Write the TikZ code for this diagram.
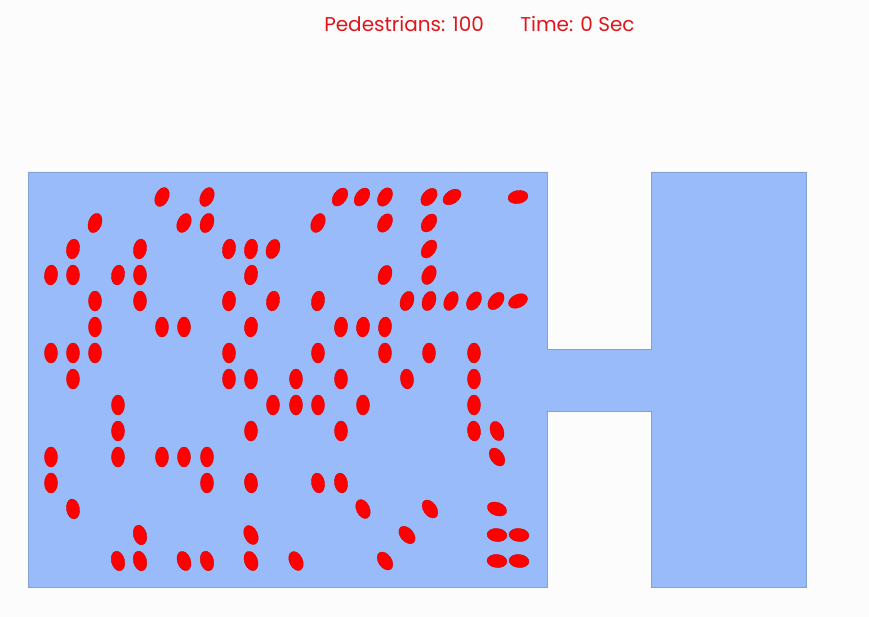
\documentclass[tikz,border=0pt]{standalone}
\usepackage{fontspec}
\setsansfont{Poppins}
\definecolor{bgcol}{HTML}{FCFCFC}
\definecolor{floorfill}{HTML}{99BBF9}
\definecolor{flooredge}{HTML}{849FD2}
\definecolor{pedred}{HTML}{FF0000}
\definecolor{labelred}{HTML}{E0161C}
\tikzset{
  floor/.style={fill=floorfill, draw=flooredge, line width=0.7pt, line join=miter},
  ped/.style={fill=pedred, draw=pedred!85!black, line width=0.3pt},
  caption/.style={font=\sffamily\fontsize{15}{17}\selectfont, text=labelred, inner sep=0pt}
}
\begin{document}
\begin{tikzpicture}[x=0.75pt, y=-0.75pt]

  % -- Canvas --
  \fill[bgcol] (0,0) rectangle (869,617);
  \useasboundingbox (0,0) rectangle (869,617);

  % -- Header --
  \node[caption, anchor=base west] (count) at (324,32) {Pedestrians: 100};
  \node[caption, anchor=base west] (clock) at (520,32) {Time: 0 Sec};

  % -- Floor plan: room, corridor, exit hall --
  \draw[floor] (28,172) -- (547,172) -- (547,349) -- (651,349) -- (651,172)
    -- (806,172) -- (806,587) -- (651,587) -- (651,411) -- (547,411)
    -- (547,587) -- (28,587) -- cycle;

  % -- Pedestrians (x / y / heading) --
  \foreach \px/\py/\ang in {
      162/197/-25, 207/197/-25, 340/197/-35, 362/197/-35, 385/197/-30, 429/197/-40, 452/197/-55, 518/197/-80,
      95/223/-20, 184/223/-25, 207/223/-20, 318/223/-25, 385/223/-30, 429/223/-35,
      73/249/-10, 140/249/-10, 229/249/-10, 251/249/-10, 273/249/-20, 429/249/-35,
      51/275/-5, 73/275/0, 118/275/-10, 140/275/0, 251/275/-10, 385/275/-20, 429/275/-25,
      95/301/0, 140/301/0, 229/301/-5, 273/301/-10, 318/301/-10, 407/301/-20, 429/301/-20, 451/301/-25, 474/301/-30, 496/301/-40, 518/301/-65,
      95/327/0, 162/327/0, 184/327/0, 251/327/-5, 341/327/-5, 363/327/-5, 385/327/-5,
      51/353/0, 73/353/0, 95/353/0, 229/353/0, 318/353/0, 385/353/0, 429/353/0, 474/353/0,
      73/379/0, 229/379/0, 251/379/0, 296/379/0, 341/379/0, 407/379/5, 474/379/0,
      118/405/0, 273/405/0, 296/405/0, 318/405/0, 363/405/0, 474/405/0,
      118/431/0, 251/431/0, 341/431/0, 474/431/5, 497/431/20,
      51/457/0, 118/457/0, 162/457/0, 184/457/0, 207/457/0, 497/457/35,
      51/483/0, 207/483/0, 251/483/5, 318/483/10, 341/483/10,
      73/509/10, 363/509/25, 430/509/35, 497/509/70,
      140/535/15, 251/535/25, 407/535/40, 497/535/85, 519/535/85,
      118/561/15, 140/561/15, 184/561/20, 207/561/15, 251/561/20, 296/561/25, 385/561/35, 497/561/85, 519/561/85}
    \draw[ped] (\px,\py) ellipse [x radius=6.5, y radius=10, rotate=\ang];

\end{tikzpicture}
\end{document}
